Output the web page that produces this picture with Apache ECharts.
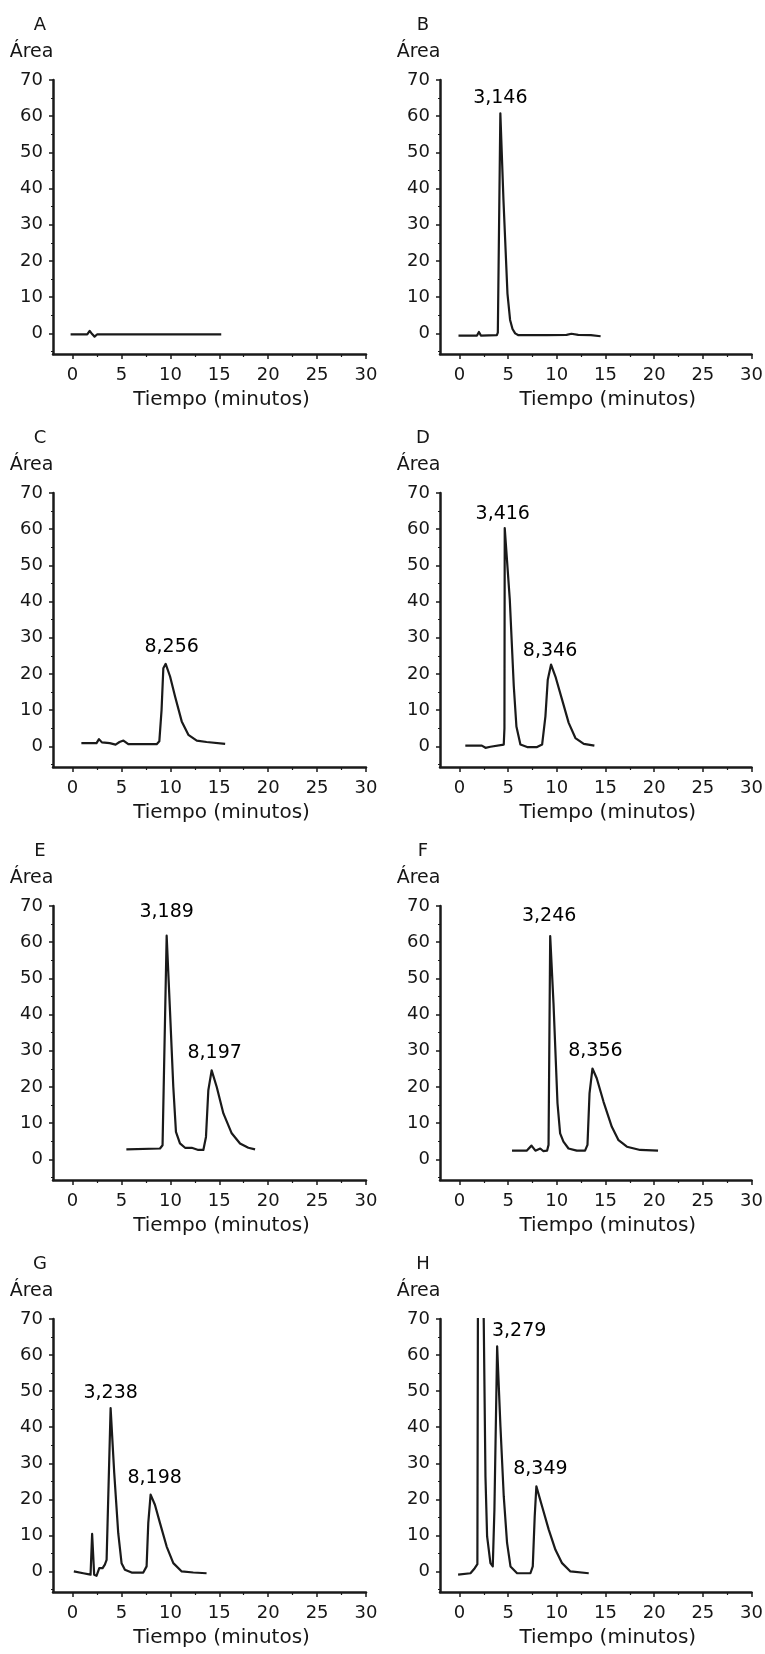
<!DOCTYPE html>
<html><head><meta charset="utf-8">
<script src="https://cdn.jsdelivr.net/npm/echarts@6/dist/echarts.min.js"></script>
<style>html,body{margin:0;padding:0;background:#fff}#c{width:765px;height:1654px}</style>
</head><body><div id="c"></div><script>
// ---- data ----
const panelLetters = ['A','B','C','D','E','F','G','H'];
const xTicks = [0,5,10,15,20,25,30];
const xMinorTicks = [2.5,7.5,12.5,17.5,22.5,27.5];
const yTicks = [0,10,20,30,40,50,60,70];
const yMinorTicks = [-5,5,15,25,35,45,55,65];
const yTitle = 'Área';
const xTitle = 'Tiempo (minutos)';

const traceA = [[-0.2,-0.3],[1.5,-0.3],[1.75,0.7],[2.0,-0.2],[2.25,-0.9],[2.5,-0.3],[13.9,-0.3],[14.05,0.1],[14.2,-0.3],[15.2,-0.3]];
const traceB = [[-0.1,-0.6],[1.8,-0.6],[2.0,0.4],[2.2,-0.6],[3.84,-0.5],[3.94,0.2],[4.2,60.8],[4.52,36.8],[4.93,11],[5.2,3.7],[5.45,1.2],[5.72,0],[6.06,-0.5],[9,-0.5],[11,-0.4],[11.5,-0.1],[12.2,-0.4],[13.5,-0.5],[14.5,-0.8]];
const traceC = [[0.9,0.9],[2.45,0.9],[2.7,2.0],[3.0,1.1],[3.8,0.9],[4.4,0.5],[4.8,1.2],[5.2,1.6],[5.7,0.6],[8.6,0.6],[8.87,1.4],[9.1,10.1],[9.28,21.6],[9.52,22.8],[9.97,19.3],[10.48,13.8],[11.16,6.9],[11.84,3.2],[12.7,1.6],[13.7,1.2],[15.6,0.7]];
const traceD = [[0.6,0.2],[2.3,0.2],[2.67,-0.4],[3.18,-0.1],[4.55,0.5],[4.62,5],[4.65,60.3],[5.17,40.5],[5.58,16.6],[5.85,5.5],[6.26,0.5],[6.95,-0.2],[7.97,-0.2],[8.49,0.5],[8.83,8.3],[9.07,18.4],[9.41,22.6],[9.86,19.3],[10.54,12.9],[11.22,6.5],[11.91,2.3],[12.77,0.7],[13.86,0.2]];
const traceE = [[5.5,2.75],[8.94,3.0],[9.2,3.9],[9.62,61.8],[9.96,41.1],[10.3,20],[10.57,7.6],[10.98,4.4],[11.5,3.2],[12.18,3.2],[12.86,2.6],[13.37,2.6],[13.64,6.2],[13.88,19.1],[14.22,24.6],[14.74,20],[15.42,12.7],[16.27,7.2],[17.12,4.4],[17.97,3.2],[18.66,2.75]];
const traceF = [[5.4,2.4],[6.9,2.4],[7.4,3.8],[7.8,2.4],[8.3,3.0],[8.6,2.3],[9.0,2.4],[9.15,4],[9.32,61.7],[9.66,43.1],[10.07,15.5],[10.34,7.2],[10.68,4.9],[11.2,3.0],[12.05,2.4],[12.9,2.4],[13.15,4.0],[13.36,18.2],[13.66,25.1],[14.1,22.4],[14.8,15.9],[15.65,9.0],[16.34,5.3],[17.2,3.5],[18.56,2.6],[20.4,2.4]];
const traceG = [[0.13,0],[1.09,-0.5],[1.84,-0.9],[2.0,10.4],[2.21,-0.9],[2.45,-1.2],[2.73,0.9],[3.07,0.9],[3.3,1.9],[3.48,3.2],[3.89,45.3],[4.26,27.3],[4.67,10.6],[5.01,2.3],[5.35,0.5],[6.04,-0.3],[7.23,-0.3],[7.57,1.4],[7.74,13.4],[7.98,21.3],[8.42,18.5],[8.94,13.4],[9.62,6.9],[10.3,2.3],[11.16,0],[12.34,-0.3],[13.7,-0.5]];
const traceH = [[-0.14,-0.9],[1.13,-0.5],[1.57,0.9],[1.84,2],[1.9,80],[2.45,80],[2.67,26.3],[2.84,9.7],[3.18,2.3],[3.42,1.4],[3.59,17.1],[3.87,62.4],[4.21,40.2],[4.55,20.8],[4.89,7.9],[5.24,1.4],[5.92,-0.5],[7.29,-0.5],[7.53,1.4],[7.73,15.3],[7.9,23.6],[8.49,18],[9.17,11.6],[9.86,6.0],[10.54,2.3],[11.4,0],[13.28,-0.5]];

const peaksA = [];
const peaksB = [[4.2,60.8,'3,146']];
const peaksC = [[9.52,22.8,'8,256']];
const peaksD = [[4.65,60.3,'3,416'],[9.41,22.6,'8,346']];
const peaksE = [[9.62,61.8,'3,189'],[14.22,24.6,'8,197']];
const peaksF = [[9.32,61.7,'3,246'],[13.66,25.1,'8,356']];
const peaksG = [[3.89,45.3,'3,238'],[7.98,21.3,'8,198']];
const peaksH = [[3.87,62.4,'3,279'],[7.9,23.6,'8,349']];

const traces = [traceA,traceB,traceC,traceD,traceE,traceF,traceG,traceH];
const peaks = [peaksA,peaksB,peaksC,peaksD,peaksE,peaksF,peaksG,peaksH];

// ---- styles / layout ----
const labelOffsets = [[], [[0,0]], [[6,-2]], [[-2,1],[-1,1]], [[0,-9],[3,-2]], [[-1,-5],[3,-2]], [[0,0],[4,-2]], [[22,0],[4,-2]]];
const FONT = 'DejaVu Sans';
const INK = '#1a1a1a';
const TXT = '#161616';
const colLeft = [53, 440];
const colWidth = [313, 311.5];
const rowTop = [80, 493, 906, 1319];
const rowHeight = [274, 274, 274, 273];
const letterX = [40, 423];

const grid = [], xAxis = [], yAxis = [], series = [], graphic = [];
panelLetters.forEach((L, i) => {
  const col = i % 2, row = Math.floor(i / 2);
  grid.push({left: colLeft[col], top: rowTop[row], width: colWidth[col], height: rowHeight[row], outerBoundsMode: 'none', containLabel: false});
  xAxis.push({
    gridIndex: i, type: 'value', min: -2, max: 30, position: 'bottom',
    axisLine: {show: true, onZero: false, lineStyle: {color: INK, width: 2.5}},
    axisTick: {show: true, customValues: xTicks, length: 5, lineStyle: {color: INK, width: 1.5}},
    axisLabel: {show: true, customValues: xTicks, margin: 12, fontSize: 18, fontFamily: FONT, color: TXT},
    splitLine: {show: false},
    name: xTitle, nameLocation: 'middle', nameGap: 36,
    nameTextStyle: {fontSize: 20, fontFamily: FONT, color: TXT, padding: [0,0,0,24], verticalAlign: 'top'}
  });
  xAxis.push({
    gridIndex: i, type: 'value', min: -2, max: 30, position: 'bottom',
    axisLine: {show: false, onZero: false},
    axisTick: {show: true, customValues: xMinorTicks, length: 3, lineStyle: {color: INK, width: 1.2}},
    axisLabel: {show: false}, splitLine: {show: false}
  });
  yAxis.push({
    gridIndex: i, type: 'value', min: -5.7, max: 70, position: 'left',
    axisLine: {show: true, onZero: false, lineStyle: {color: INK, width: 2.5}},
    axisTick: {show: true, customValues: yTicks, length: 4, lineStyle: {color: INK, width: 1.5}},
    axisLabel: {show: true, customValues: yTicks, margin: 10, fontSize: 18, fontFamily: FONT, color: TXT},
    splitLine: {show: false},
    name: yTitle, nameLocation: 'end', nameGap: 28,
    nameTextStyle: {fontSize: 19, fontFamily: FONT, color: TXT, align: 'center', verticalAlign: 'middle', padding: [0,43,0,0]}
  });
  yAxis.push({
    gridIndex: i, type: 'value', min: -5.7, max: 70, position: 'left',
    axisLine: {show: false, onZero: false},
    axisTick: {show: true, customValues: yMinorTicks, length: 2, lineStyle: {color: INK, width: 1.2}},
    axisLabel: {show: false}, splitLine: {show: false}
  });
  series.push({
    type: 'line', xAxisIndex: 2*i, yAxisIndex: 2*i, data: traces[i],
    showSymbol: false, symbol: 'none', smooth: false, clip: true,
    lineStyle: {color: INK, width: 2.2, join: 'round'}, silent: true
  });
  series.push({
    type: 'scatter', xAxisIndex: 2*i, yAxisIndex: 2*i, symbolSize: 1,
    itemStyle: {color: 'rgba(255,255,255,0)'}, silent: true,
    data: peaks[i].map((p, k) => ({
      value: [p[0], p[1]], name: p[2],
      label: {show: true, position: 'top', distance: 5, offset: labelOffsets[i][k],
        formatter: p[2], fontSize: 19, fontFamily: FONT, color: '#000',
        opacity: 1, textBorderWidth: 0, textShadowBlur: 0}
    }))
  });
  graphic.push({
    type: 'text', x: letterX[col], y: rowTop[row] - 55,
    style: {text: L, fontSize: 18, fontFamily: FONT, fill: TXT, align: 'center', verticalAlign: 'middle'}
  });
});

const chart = echarts.init(document.getElementById('c'), null, {renderer: 'canvas'});
chart.setOption({animation: false, backgroundColor: '#fff', grid, xAxis, yAxis, series, graphic});
</script></body></html>
